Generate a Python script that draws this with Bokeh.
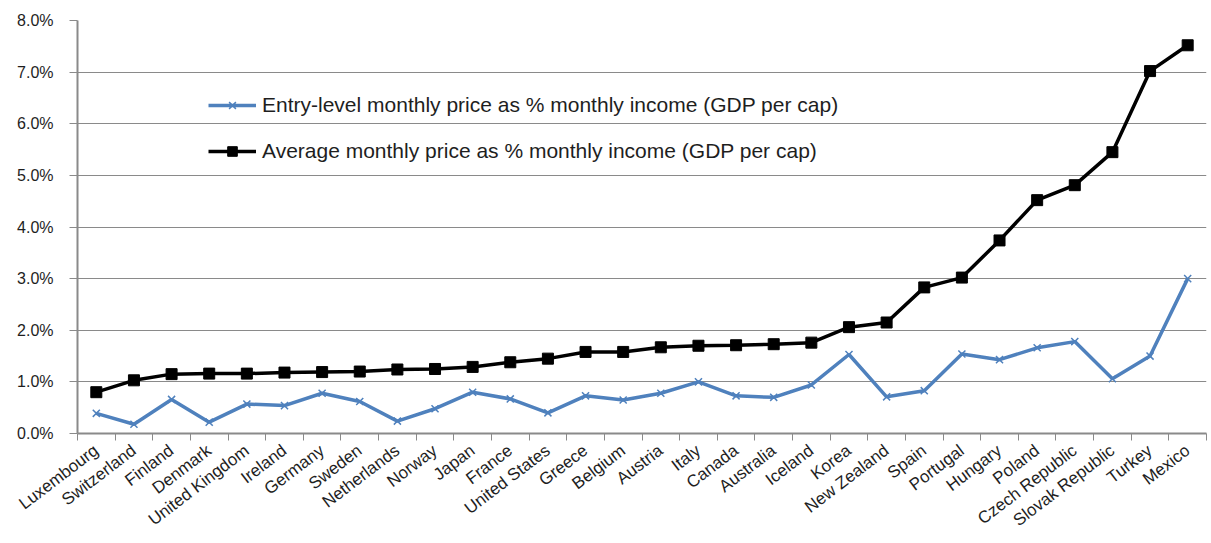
import numpy as np
from bokeh.plotting import figure
from bokeh.models import Range1d, FixedTicker, PrintfTickFormatter, Legend, LegendItem
from bokeh.embed import file_html
from bokeh.resources import INLINE

countries = ["Luxembourg", "Switzerland", "Finland", "Denmark", "United Kingdom", "Ireland",
             "Germany", "Sweden", "Netherlands", "Norway", "Japan", "France", "United States",
             "Greece", "Belgium", "Austria", "Italy", "Canada", "Australia", "Iceland", "Korea",
             "New Zealand", "Spain", "Portugal", "Hungary", "Poland", "Czech Republic",
             "Slovak Republic", "Turkey", "Mexico"]
entry_level = [0.39, 0.18, 0.66, 0.22, 0.57, 0.54, 0.78, 0.62, 0.24, 0.48, 0.80, 0.67, 0.40,
               0.73, 0.65, 0.78, 1.00, 0.73, 0.70, 0.94, 1.53, 0.71, 0.83, 1.54, 1.43, 1.66,
               1.78, 1.06, 1.50, 3.00]
average = [0.80, 1.03, 1.15, 1.16, 1.16, 1.18, 1.19, 1.20, 1.24, 1.25, 1.29, 1.38, 1.45,
           1.58, 1.58, 1.67, 1.70, 1.71, 1.73, 1.76, 2.06, 2.15, 2.83, 3.02, 3.74, 4.52,
           4.81, 5.45, 7.02, 7.52]
y_ticks = [0, 1, 2, 3, 4, 5, 6, 7, 8]
legend_labels = ["Entry-level monthly price as % monthly income (GDP per cap)",
                 "Average monthly price as % monthly income (GDP per cap)"]

n = len(countries)
xs = np.arange(n) + 0.5
FONT = "Liberation Sans"
GRAY = "#8a8a8a"
BLUE = "#4f81bd"
TEXT = "#1e1e1e"

p = figure(width=1208, height=540, output_backend="svg", toolbar_location=None,
           x_range=Range1d(0, n), y_range=Range1d(0, 8),
           min_border_left=77, min_border_right=2, min_border_top=20, min_border_bottom=107)
p.outline_line_color = None
p.background_fill_color = "white"

p.xgrid.grid_line_color = None
p.ygrid.grid_line_color = GRAY
p.ygrid.grid_line_width = 1
p.ygrid.ticker = FixedTicker(ticks=y_ticks)

p.yaxis.ticker = FixedTicker(ticks=y_ticks)
p.yaxis.formatter = PrintfTickFormatter(format="%.1f%%")
p.yaxis.axis_line_color = GRAY
p.yaxis.axis_line_width = 2
p.yaxis.major_tick_line_color = GRAY
p.yaxis.major_tick_in = 0
p.yaxis.major_tick_out = 8
p.yaxis.minor_tick_line_color = None
p.yaxis.major_label_standoff = 16
p.yaxis.major_label_text_font = FONT
p.yaxis.major_label_text_font_size = "16px"
p.yaxis.major_label_text_color = TEXT

p.xaxis.ticker = FixedTicker(ticks=list(xs), minor_ticks=list(range(n + 1)))
p.xaxis.major_label_overrides = {float(x): c for x, c in zip(xs, countries)}
p.xaxis.major_tick_line_color = None
p.xaxis.minor_tick_line_color = GRAY
p.xaxis.minor_tick_line_width = 1
p.xaxis.minor_tick_in = 0
p.xaxis.minor_tick_out = 7
p.xaxis.axis_line_color = GRAY
p.xaxis.axis_line_width = 2
p.xaxis.major_label_orientation = 0.65
p.xaxis.major_label_text_font = FONT
p.xaxis.major_label_text_font_size = "17px"
p.xaxis.major_label_text_color = TEXT
p.xaxis.major_label_standoff = 8

l1 = p.line(xs, entry_level, line_color=BLUE, line_width=3.5)
m1 = p.scatter(xs, entry_level, marker="x", size=10, line_color=BLUE, line_width=1.5)
l2 = p.line(xs, average, line_color="black", line_width=3.5)
m2 = p.scatter(xs, average, marker="square", size=11, fill_color="black", line_color="black")

legend = Legend(items=[LegendItem(label=legend_labels[0], renderers=[l1, m1]),
                       LegendItem(label=legend_labels[1], renderers=[l2, m2])],
                location=(131, 270), orientation="vertical")
legend.background_fill_alpha = 0
legend.border_line_color = None
legend.padding = 0
legend.margin = 0
legend.spacing = 22
legend.glyph_width = 48
legend.glyph_height = 24
legend.label_height = 24
legend.label_standoff = 6
legend.label_text_font = FONT
legend.label_text_font_size = "21px"
legend.label_text_color = TEXT
p.add_layout(legend, "center")

open("out.html", "w").write(file_html(p, INLINE))
